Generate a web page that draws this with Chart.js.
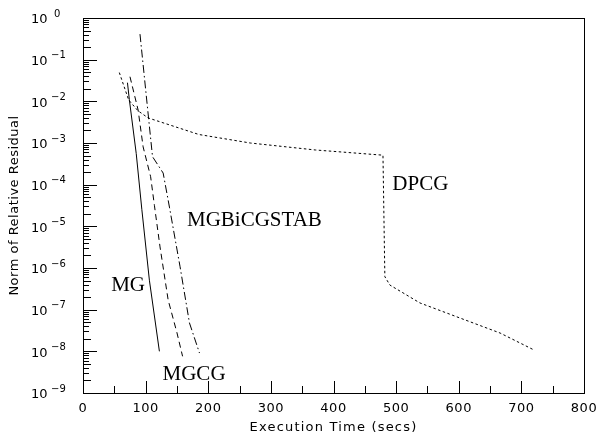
<!DOCTYPE html>
<html>
<head>
<meta charset="utf-8">
<script src="https://cdn.jsdelivr.net/npm/chart.js@4"></script>
<style>
  html, body { margin: 0; padding: 0; background: #fff; }
  #wrap { width: 600px; height: 439px; }
</style>
</head>
<body>
<div id="wrap"><canvas id="resChart"></canvas></div>
<script>
// values: time (secs) and relative residual
const mgTime = [71, 74, 85, 94, 106, 122]
const mgRes = [2.8e-2, 1.1e-2, 5.6e-4, 2.5e-5, 5.1e-7, 1.0e-8]

const mgcgTime = [75, 88, 96, 108, 114, 123, 136, 150, 159]
const mgcgRes = [3.9e-2, 6.2e-3, 8.1e-4, 1.55e-4, 3.2e-5, 3.2e-6, 1.7e-7, 2.8e-8, 7.6e-9]

const bicgTime = [91, 111, 128, 138, 155, 170, 186]
const bicgRes = [4.1e-1, 4.7e-4, 1.9e-4, 2.9e-5, 1.07e-6, 4.8e-8, 9.1e-9]

const dpcgTime = [58, 73, 88, 104, 185, 267, 371, 479, 482, 490, 538, 602, 666, 719]
const dpcgRes = [4.9e-2, 1.07e-2, 5.9e-3, 4.0e-3, 1.6e-3, 1.0e-3, 6.8e-4, 5.1e-4, 6.2e-7, 3.9e-7, 1.45e-7, 6.3e-8, 2.75e-8, 1.1e-8]

const xTicks = [0, 100, 200, 300, 400, 500, 600, 700, 800]
const yExponents = [0, -1, -2, -3, -4, -5, -6, -7, -8, -9]

// series names and where their text sits (time, residual)
const seriesNames = ['MG', 'MGCG', 'MGBiCGSTAB', 'DPCG']
const labelTime = [45, 127, 166, 494]
const labelRes = [2.75e-7, 2.0e-9, 1.0e-5, 7.6e-5]

function pts(xs, ys) {
    return xs.map(function(x, i) { return {x: x, y: ys[i]} })
}

function line(name, xs, ys, dash) {
    return {
        label: name,
        data: pts(xs, ys),
        showLine: true,
        borderColor: '#000',
        borderWidth: 1,
        borderDash: dash,
        pointRadius: 0,
        tension: 0,
        fill: false
    }
}

const axesPlugin = {
    id: 'axesPlugin',
    afterDraw(chart) {
        const ctx = chart.ctx
        const xs = chart.scales.x
        const ys = chart.scales.y
        const a = chart.chartArea
        ctx.save()
        ctx.strokeStyle = '#000'
        ctx.lineWidth = 1
        ctx.strokeRect(Math.round(a.left) + 0.5, Math.round(a.top) + 0.5,
            Math.round(a.right - a.left), Math.round(a.bottom - a.top))

        // x ticks, pointing inward
        ctx.beginPath()
        for (let v = 0; v <= 800; v += 50) {
            const px = Math.round(xs.getPixelForValue(v)) + 0.5
            const len = v % 100 == 0 ? 12 : 7
            ctx.moveTo(px, a.bottom)
            ctx.lineTo(px, a.bottom - len)
        }
        // y ticks, decades long, minors short
        for (let e = -9; e <= 0; e++) {
            for (let m = 1; m <= 9; m++) {
                if (e == 0 && m > 1) break
                const py = Math.round(ys.getPixelForValue(m * Math.pow(10, e))) + 0.5
                const len = m == 1 ? 14 : (m == 2 || m == 5 ? 8 : 6)
                ctx.moveTo(a.left, py)
                ctx.lineTo(a.left + len, py)
            }
        }
        ctx.stroke()

        ctx.fillStyle = '#000'
        ctx.font = '13px "DejaVu Sans"'
        ctx.textAlign = 'center'
        ctx.textBaseline = 'middle'
        ctx.letterSpacing = '0.5px'
        for (const t of xTicks) {
            ctx.fillText(String(t), xs.getPixelForValue(t), a.bottom + 16)
        }
        ctx.letterSpacing = '1.2px'
        ctx.fillText('Execution Time (secs)', (a.left + a.right) / 2, a.bottom + 35)
        ctx.letterSpacing = '0px'

        for (const e of yExponents) {
            const py = ys.getPixelForValue(Math.pow(10, e))
            ctx.font = '13px "DejaVu Sans"'
            ctx.textAlign = 'left'
            ctx.fillText('10', 31, py + 2)
            ctx.font = '10px "DejaVu Sans"'
            ctx.fillText(e == 0 ? '0' : '\u2212' + Math.abs(e), e == 0 ? 54 : 51, py - 4)
        }

        ctx.save()
        ctx.translate(15, (a.top + a.bottom) / 2)
        ctx.rotate(-Math.PI / 2)
        ctx.font = '13px "DejaVu Sans"'
        ctx.textAlign = 'center'
        ctx.letterSpacing = '0.5px'
        ctx.fillText('Norm of Relative Residual', 0, 0)
        ctx.restore()

        ctx.font = '21px "Liberation Serif"'
        ctx.textAlign = 'left'
        ctx.textBaseline = 'alphabetic'
        seriesNames.forEach(function(n, i) {
            ctx.fillText(n, xs.getPixelForValue(labelTime[i]), ys.getPixelForValue(labelRes[i]))
        })
        ctx.restore()
    }
}

new Chart(document.getElementById('resChart'), {
    type: 'scatter',
    data: {
        datasets: [
            line('MG', mgTime, mgRes, []),
            line('MGCG', mgcgTime, mgcgRes, [6, 4]),
            line('MGBiCGSTAB', bicgTime, bicgRes, [8, 3, 1.5, 3]),
            line('DPCG', dpcgTime, dpcgRes, [2.5, 2.5])
        ]
    },
    options: {
        responsive: true,
        maintainAspectRatio: false,
        animation: false,
        layout: { padding: { left: 83, right: 16, top: 18, bottom: 46 } },
        plugins: { legend: { display: false }, tooltip: { enabled: false } },
        scales: {
            x: { type: 'linear', min: 0, max: 800, display: false },
            y: { type: 'logarithmic', min: 1e-9, max: 1, display: false }
        }
    },
    plugins: [axesPlugin]
});
</script>
</body>
</html>
